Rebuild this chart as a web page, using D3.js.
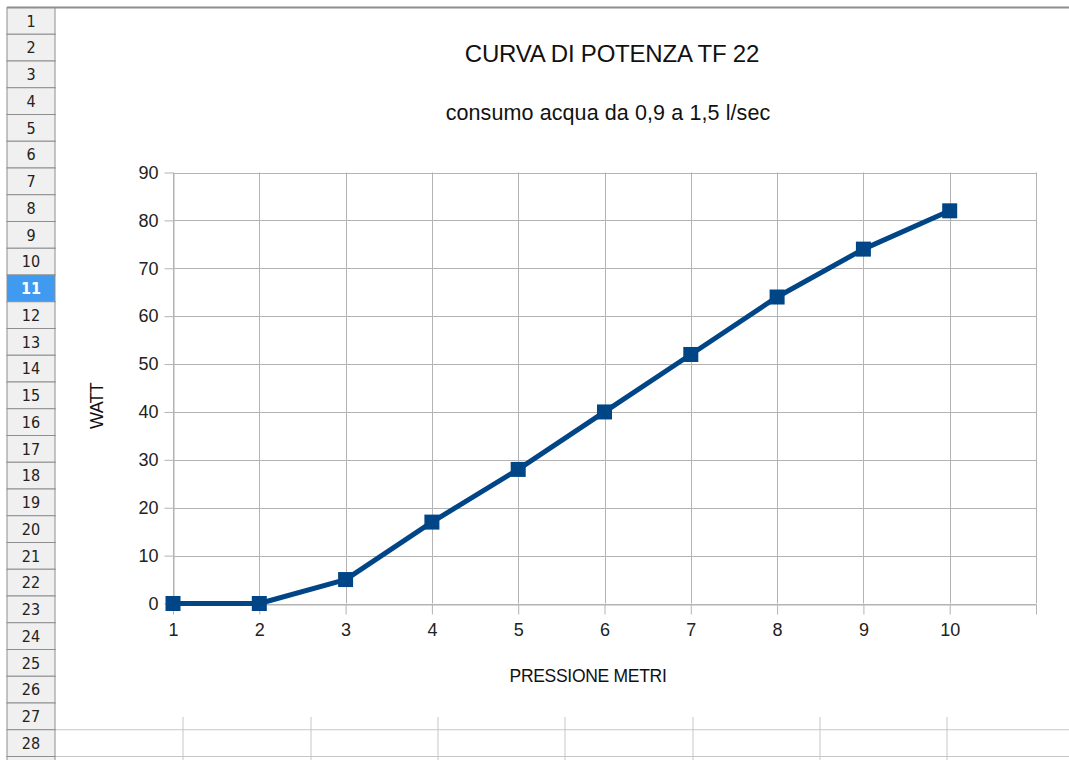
<!DOCTYPE html>
<html>
<head>
<meta charset="utf-8">
<script src="https://cdn.jsdelivr.net/npm/d3@7"></script>
<style>
  body { margin: 0; background: #fff; }
  .axis text { font-family: "Liberation Sans", Arial, sans-serif; font-size: 18px; fill: #222; }
  .axis path, .axis line { stroke: #b3b3b3; }
  .grid line { stroke: #b3b3b3; }
  .rowhead text { font-family: "DejaVu Sans Condensed", "DejaVu Sans", sans-serif; font-size: 16px; fill: #222; }
</style>
</head>
<body>
<div id="chart"></div>
<script>
// pressure (m) vs power (W)
var pressione = [1, 2, 3, 4, 5, 6, 7, 8, 9, 10];
var watt = [0, 0, 5, 17, 28, 40, 52, 64, 74, 82];
var xTicks = [1, 2, 3, 4, 5, 6, 7, 8, 9, 10, 11];
var yTicks = [0, 10, 20, 30, 40, 50, 60, 70, 80, 90];
var rowLabels = d3.range(1, 29);
var activeRow = 11;

var title = "CURVA DI POTENZA TF 22",
    subtitle = "consumo acqua da 0,9 a 1,5 l/sec",
    xTitle = "PRESSIONE METRI",
    yTitle = "WATT";

var W = 1069, H = 760;
var sheetTop = 7.5, rowH = 26.75, headL = 7, headR = 55;
var colLines = [183, 311, 438, 565, 693, 820, 947];
var chartBottom = 717;

var svg = d3.select("#chart")
    .append("svg")
    .attr("width", W)
    .attr("height", H)

// spreadsheet background: grid of cells below the chart object
svg.selectAll(".hrow")
    .data(rowLabels)
    .enter().append("line")
    .attr("x1", headR).attr("x2", W)
    .attr("y1", function (d) { return sheetTop + d * rowH; })
    .attr("y2", function (d) { return sheetTop + d * rowH; })
    .attr("stroke", "#c6c6c6")

svg.selectAll(".vcol")
    .data(colLines)
    .enter().append("line")
    .attr("x1", function (d) { return d; }).attr("x2", function (d) { return d; })
    .attr("y1", sheetTop).attr("y2", H)
    .attr("stroke", "#c6c6c6")

// chart object (white) covers the cells
svg.append("rect")
    .attr("x", headR + 1).attr("y", sheetTop)
    .attr("width", W - headR).attr("height", chartBottom - sheetTop)
    .attr("fill", "#fff")

// row headers (plus the partly visible next row)
var rh = svg.append("g").attr("class", "rowhead")

rh.selectAll("rect")
    .data(rowLabels.concat([rowLabels.length + 1]))
    .enter().append("rect")
    .attr("x", headL)
    .attr("y", function (d) { return sheetTop + (d - 1) * rowH; })
    .attr("width", headR - headL)
    .attr("height", rowH)
    .attr("fill", function (d) { return d === activeRow ? "#3f9af0" : "#f0f0f0"; })
    .attr("stroke", "#8e8e8e")

rh.selectAll("text")
    .data(rowLabels)
    .enter().append("text")
    .attr("x", (headL + headR) / 2)
    .attr("y", function (d) { return sheetTop + (d - 0.5) * rowH; })
    .attr("dy", "0.36em")
    .attr("text-anchor", "middle")
    .style("fill", function (d) { return d === activeRow ? "#fff" : "#222"; })
    .style("font-weight", function (d) { return d === activeRow ? "bold" : "normal"; })
    .text(function (d) { return d; })

// top frame line
svg.append("line")
    .attr("x1", headL).attr("x2", W)
    .attr("y1", sheetTop).attr("y2", sheetTop)
    .attr("stroke", "#8e8e8e").attr("stroke-width", 2)

// plot
var x = d3.scaleLinear().domain([1, 11]).range([173, 1036]),
    y = d3.scaleLinear().domain([0, 90]).range([603.5, 172.5]);

var g = svg.append("g")

g.append("g")
    .attr("class", "grid")
    .selectAll("line")
    .data(yTicks)
    .enter().append("line")
    .attr("x1", x(1)).attr("x2", x(11))
    .attr("y1", function (d) { return Math.round(y(d)) + 0.5; })
    .attr("y2", function (d) { return Math.round(y(d)) + 0.5; })

g.append("g")
    .attr("class", "grid")
    .selectAll("line")
    .data(xTicks)
    .enter().append("line")
    .attr("x1", function (d) { return Math.round(x(d)) + 0.5; })
    .attr("x2", function (d) { return Math.round(x(d)) + 0.5; })
    .attr("y1", y(0)).attr("y2", y(90))

g.append("g")
    .attr("class", "axis axis--x")
    .attr("transform", "translate(0," + (Math.round(y(0)) + 0.5) + ")")
    .call(d3.axisBottom(x).tickValues(xTicks).tickSize(10).tickSizeOuter(0).tickPadding(9)
        .tickFormat(function (d) { return d <= 10 ? d : ""; }))

g.append("g")
    .attr("class", "axis axis--y")
    .attr("transform", "translate(" + (Math.round(x(1)) + 0.5) + ",0)")
    .call(d3.axisLeft(y).tickValues(yTicks).tickSize(9).tickSizeOuter(0).tickPadding(6))

var pts = pressione.map(function (p, i) { return { p: p, w: watt[i] }; });

var line = d3.line()
    .x(function (d) { return x(d.p); })
    .y(function (d) { return y(d.w); });

g.append("path")
    .datum(pts)
    .attr("fill", "none")
    .attr("stroke", "#004586")
    .attr("stroke-width", 5)
    .attr("stroke-linejoin", "round")
    .attr("d", line)

g.selectAll(".mark")
    .data(pts)
    .enter().append("rect")
    .attr("x", function (d) { return x(d.p) - 7.5; })
    .attr("y", function (d) { return y(d.w) - 7.5; })
    .attr("width", 15).attr("height", 15)
    .attr("fill", "#004586")

// titles
var tfont = "'Liberation Sans', Arial, sans-serif";
svg.append("text")
    .attr("x", 612).attr("y", 62)
    .attr("text-anchor", "middle")
    .style("font-family", tfont).style("font-size", "24px").style("fill", "#111")
    .style("letter-spacing", "-0.2px")
    .text(title)

svg.append("text")
    .attr("x", 608).attr("y", 120)
    .attr("text-anchor", "middle")
    .style("font-family", tfont).style("font-size", "21.5px").style("fill", "#111")
    .style("letter-spacing", "0.1px")
    .text(subtitle)

svg.append("text")
    .attr("x", 588).attr("y", 682)
    .attr("text-anchor", "middle")
    .style("font-family", tfont).style("font-size", "17.5px").style("fill", "#111")
    .style("letter-spacing", "-0.3px")
    .text(xTitle)

svg.append("text")
    .attr("transform", "translate(103,406) rotate(-90)")
    .attr("text-anchor", "middle")
    .style("font-family", tfont).style("font-size", "18px").style("fill", "#111")
    .style("letter-spacing", "-0.8px")
    .text(yTitle)
</script>
</body>
</html>
